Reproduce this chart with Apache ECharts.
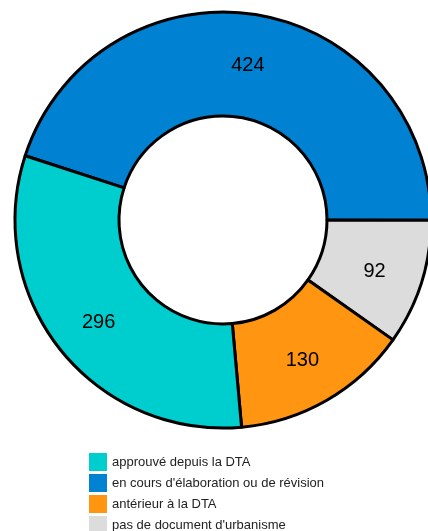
<!DOCTYPE html>
<html><head><meta charset="utf-8">
<script src="https://cdn.jsdelivr.net/npm/echarts@6/dist/echarts.min.js"></script>
<style>html,body{margin:0;padding:0;background:#fff}#c{width:428px;height:531px}</style>
</head><body><div id="c"></div>
<script>
const categories = ["en cours d'élaboration ou de révision", "pas de document d'urbanisme", "antérieur à la DTA", "approuvé depuis la DTA"];
const values = [424, 92, 130, 296];
const colors = ["#0081D1", "#DCDCDC", "#FF9511", "#00CDCD"];
const legendOrder = ["approuvé depuis la DTA", "en cours d'élaboration ou de révision", "antérieur à la DTA", "pas de document d'urbanisme"];

const chart = echarts.init(document.getElementById('c'), null, {renderer: 'canvas'});
chart.setOption({
  animation: false,
  legend: {
    orient: 'vertical', left: 89, top: 453, height: 120, padding: 0,
    itemWidth: 18, itemHeight: 18, itemGap: 3,
    icon: 'rect',
    data: legendOrder,
    textStyle: {fontFamily: 'Liberation Sans', fontSize: 13, color: '#222'},
    itemStyle: {borderWidth: 0}
  },
  series: [{
    type: 'pie',
    center: [223, 220],
    radius: [104, 208],
    startAngle: 162,
    clockwise: true,
    avoidLabelOverlap: false,
    label: {show: true, position: 'inside', formatter: '{c}', fontFamily: 'Liberation Sans', fontSize: 20, color: '#000', offset: [0, 3]},
    labelLine: {show: false},
    itemStyle: {borderColor: '#000', borderWidth: 3},
    emphasis: {disabled: true},
    data: categories.map((n, i) => ({name: n, value: values[i], itemStyle: {color: colors[i]}}))
  }]
});
</script></body></html>
